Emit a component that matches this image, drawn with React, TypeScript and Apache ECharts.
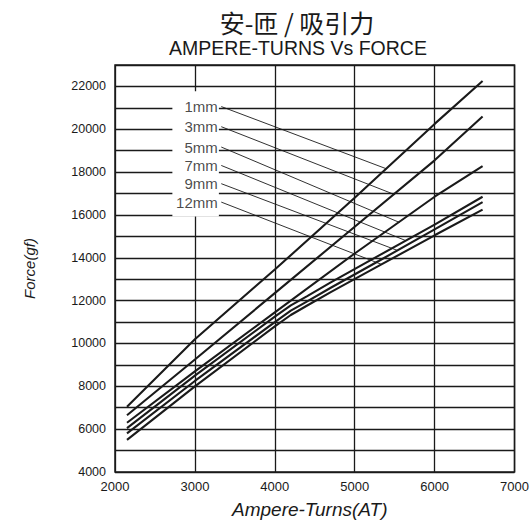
import React, { useEffect, useRef } from 'react';
import * as echarts from 'echarts';

const titleCN = '安-匝 / 吸引力';
const titleEN = 'AMPERE-TURNS Vs FORCE';
const xName = 'Ampere-Turns(AT)';
const yName = 'Force(gf)';
const gapNames = ['1mm', '3mm', '5mm', '7mm', '9mm', '12mm'];

const atStraight = [2150, 3000, 4000, 5000, 6000, 6600];
const atBend = [2150, 3000, 4000, 4200, 4400, 4700, 5300, 6000, 6600];

const force1mm = [7050, 10200, 13450, 16800, 20250, 22250];
const force3mm = [6650, 9250, 12350, 15450, 18550, 20600];
const force5mm = [6300, 8700, 11450, 14200, 16850, 18280];
const force7mm = [6050, 8500, 11250, 11780, 12200, 12850, 14100, 15550, 16850];
const force9mm = [5800, 8250, 11000, 11530, 11950, 12600, 13850, 15330, 16600];
const force12mm = [5500, 8000, 10800, 11330, 11760, 12400, 13620, 15050, 16250];

const leaderStartAT = 3330;
const leaderStartForce = [21060, 20120, 19170, 18310, 17460, 16600];
const leaderEndAT = [5400, 5500, 5560, 5640, 5530, 5330];
const leaderEndForce = [18150, 16950, 15650, 14800, 14350, 13700];
const labelBoxAT = [2718, 3300];
const labelBoxForce = [21780, 15930];

const FONT = "'Liberation Sans', Arial, sans-serif";
const INK = '#1a1a1a';

export default function App() {
  const ref = useRef<HTMLDivElement>(null);
  useEffect(() => {
    if (!ref.current) return;
    const chart = echarts.init(ref.current, undefined, { renderer: 'svg' });
    const curves: [number[], number[]][] = [
      [atStraight, force1mm],
      [atStraight, force3mm],
      [atStraight, force5mm],
      [atBend, force7mm],
      [atBend, force9mm],
      [atBend, force12mm],
    ];
    const curveSeries = curves.map(([xs, ys], k) => ({
      type: 'line',
      name: gapNames[k],
      data: xs.map((x, i) => [x, ys[i]]),
      symbol: 'none',
      smooth: false,
      lineStyle: { color: INK, width: 2.1 },
      z: 3,
    }));
    const leaderSeries = gapNames.map((n, k) => ({
      type: 'line',
      name: 'leader-' + n,
      data: [
        [leaderStartAT, leaderStartForce[k]],
        [leaderEndAT[k], leaderEndForce[k]],
      ],
      symbol: 'none',
      lineStyle: { color: INK, width: 0.9 },
      z: 3,
    }));
    const labelSeries = {
      type: 'scatter',
      name: 'labels',
      symbolSize: 1,
      itemStyle: { color: 'rgba(0,0,0,0)' },
      data: gapNames.map((n, k) => ({
        value: [leaderStartAT, leaderStartForce[k]],
        name: n,
      })),
      label: {
        show: true,
        position: 'left',
        distance: 3,
        formatter: (p: any) => p.name,
        color: INK,
        fontSize: 15,
        fontFamily: FONT,
      },
      markArea: {
        silent: true,
        itemStyle: { color: '#ffffff', opacity: 1 },
        data: [
          [
            { coord: [labelBoxAT[0], labelBoxForce[0]] },
            { coord: [labelBoxAT[1], labelBoxForce[1]] },
          ],
        ],
      },
      z: 2,
    };
    chart.setOption({
      animation: false,
      backgroundColor: '#ffffff',
      textStyle: { fontFamily: FONT },
      graphic: [
        {
          type: 'text',
          x: 297,
          y: 22,
          style: {
            text: titleCN,
            fontSize: 25,
            fontFamily: "'Noto Sans CJK SC', sans-serif",
            fill: INK,
            align: 'center',
            verticalAlign: 'middle',
          },
        },
        {
          type: 'text',
          x: 298,
          y: 48,
          style: {
            text: titleEN,
            fontSize: 19.5,
            fontFamily: FONT,
            fill: INK,
            align: 'center',
            verticalAlign: 'middle',
          },
        },
      ],
      grid: {
        left: 115,
        right: 13,
        top: 65,
        bottom: 52,
        show: true,
        borderColor: INK,
        borderWidth: 1.5,
        backgroundColor: 'transparent',
      },
      xAxis: {
        type: 'value',
        min: 2000,
        max: 7000,
        interval: 1000,
        name: xName,
        nameLocation: 'middle',
        nameGap: 28,
        nameTextStyle: {
          fontStyle: 'italic',
          fontSize: 19,
          color: INK,
          fontFamily: FONT,
          padding: [0, 10, 0, 0],
        },
        axisLine: { show: false },
        axisTick: { show: false },
        axisLabel: {
          color: INK,
          fontSize: 13,
          margin: 8,
          fontFamily: FONT,
          formatter: (v: number) => String(v),
        },
        splitLine: { show: true, lineStyle: { color: INK, width: 1.3 } },
      },
      yAxis: {
        type: 'value',
        min: 4000,
        max: 23000,
        interval: 1000,
        name: yName,
        nameLocation: 'middle',
        nameGap: 78,
        nameRotate: 90,
        nameTextStyle: {
          fontStyle: 'italic',
          fontSize: 15,
          color: INK,
          fontFamily: FONT,
        },
        axisLine: { show: false },
        axisTick: { show: false },
        axisLabel: {
          color: INK,
          fontSize: 12.5,
          margin: 9,
          fontFamily: FONT,
          formatter: (v: number) => (v % 2000 === 0 && v <= 22000 ? String(v) : ''),
        },
        splitLine: { show: true, lineStyle: { color: INK, width: 1.3 } },
      },
      series: [...curveSeries, ...leaderSeries, labelSeries],
    } as any);
    return () => chart.dispose();
  }, []);
  return <div ref={ref} style={{ width: 532, height: 524, position: 'absolute', left: 0, top: 0 }} />;
}
